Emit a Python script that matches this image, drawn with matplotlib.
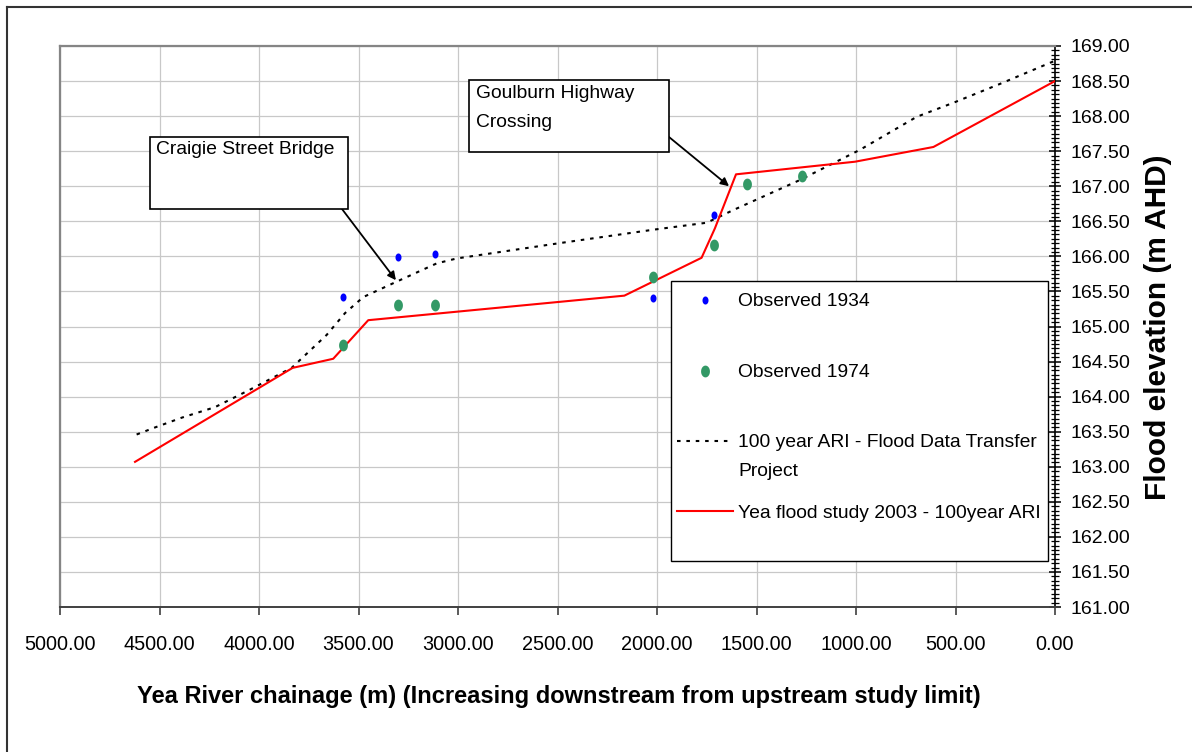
import numpy as np
import matplotlib
matplotlib.use("Agg")
import matplotlib.pyplot as plt
from matplotlib.path import Path
from matplotlib.patches import Rectangle
from matplotlib.lines import Line2D
from matplotlib.ticker import MultipleLocator, FormatStrFormatter

# ---------------- data ----------------
chainage_fdtp = [4615, 4523, 4388, 4221, 4045, 3836, 3660, 3568, 3476, 3308, 3107,
                 3007, 2487, 2019, 1750, 1617, 1281, 980, 695, 511, 276, 0]
elev_fdtp = [163.46, 163.56, 163.70, 163.85, 164.10, 164.41, 164.88, 165.19, 165.42,
             165.64, 165.90, 165.97, 166.19, 166.38, 166.48, 166.66, 167.09, 167.52,
             167.99, 168.19, 168.46, 168.79]

chainage_2003 = [4623, 3831, 3627, 3451, 2164, 1776, 1709, 1603, 1005, 611, 0]
elev_2003 = [163.07, 164.41, 164.54, 165.09, 165.44, 165.98, 166.40, 167.17, 167.35,
             167.56, 168.50]

chainage_1934 = [3579, 3302, 3114, 2022, 1712]
elev_1934 = [165.42, 165.99, 166.03, 165.40, 166.59]

chainage_1974 = [3579, 3303, 3114, 2020, 1712, 1548, 1270]
elev_1974 = [164.73, 165.30, 165.30, 165.70, 166.16, 167.03, 167.15]

label_1934 = "Observed 1934"
label_1974 = "Observed 1974"
label_fdtp = ["100 year ARI - Flood Data Transfer", "Project"]
label_2003 = "Yea flood study 2003 - 100year ARI"

x_ticks = list(range(5000, -1, -500))
annot_bridge = ("Craigie Street Bridge", 3312, 165.66)
annot_highway = ("Goulburn Highway\nCrossing", 1638, 167.00)

# ---------------- style ----------------
FONT = ['Liberation Sans', 'DejaVu Sans']
W, H = 1192, 752

fig = plt.figure(figsize=(W / 100, H / 100), dpi=100)
fig.patch.set_facecolor('white')
ax = fig.add_axes([60 / W, 145 / H, 995 / W, 561 / H])

theta = np.linspace(0, 2 * np.pi, 41)
ell = Path(np.column_stack([0.75 * np.cos(theta), np.sin(theta)]), closed=True)

hf, = ax.plot(chainage_fdtp, elev_fdtp, color='black', lw=1.5, dashes=(1.7, 2.8),
              zorder=3)
h03, = ax.plot(chainage_2003, elev_2003, color='#ff0000', lw=1.5, zorder=3)
h34, = ax.plot(chainage_1934, elev_1934, ls='none', marker=ell, ms=5.8,
               color='#0000ff', mec='none', zorder=4)
h74, = ax.plot(chainage_1974, elev_1974, ls='none', marker=ell, ms=8.5,
               color='#339966', mec='none', zorder=4)

ax.set_xlim(5000, 0)
ax.set_ylim(161, 169)
ax.set_xticks(x_ticks)
ax.xaxis.set_major_formatter(FormatStrFormatter('%.2f'))
ax.yaxis.set_major_locator(MultipleLocator(0.5))
ax.yaxis.set_minor_locator(MultipleLocator(0.0625))
ax.yaxis.set_major_formatter(FormatStrFormatter('%.2f'))
ax.yaxis.tick_right()
ax.grid(True, which='major', color='#c8c8c8', lw=0.9)
ax.set_axisbelow(True)

for s in ['top', 'left']:
    ax.spines[s].set_color('#858585')
    ax.spines[s].set_linewidth(1.6)
ax.spines['bottom'].set_color('#404040')
ax.spines['bottom'].set_linewidth(1.4)
ax.spines['right'].set_color('black')
ax.spines['right'].set_linewidth(1.2)

ax.tick_params(axis='x', direction='out', length=6, width=1.2, color='#404040',
               pad=14, labelsize=14.3)
ax.tick_params(axis='y', which='major', direction='inout', length=9, width=1.1,
               color='black', pad=7, labelsize=14)
ax.tick_params(axis='y', which='minor', direction='inout', length=6, width=0.9,
               color='black')
for lab in ax.get_xticklabels() + ax.get_yticklabels():
    lab.set_fontfamily(FONT)

# axis titles
fig.text(559 / W, 1 - 697 / H,
         "Yea River chainage (m) (Increasing downstream from upstream study limit)",
         ha='center', va='center', fontsize=17, fontweight='bold', family=FONT)
fig.text(1158 / W, 1 - 327 / H, "Flood elevation (m AHD)", rotation=90,
         ha='center', va='center', fontsize=21.5, fontweight='bold', family=FONT)

# legend frame + one legend row each (rows are unevenly spaced in the original)
fig.add_artist(Rectangle((670.7 / W, 1 - 561 / H), 377 / W, 280.3 / H,
                         transform=fig.transFigure, facecolor='white',
                         edgecolor='black', lw=1.0, zorder=1))
LEG_FS = 13.9
leg_kw = dict(frameon=False, handlelength=2.9, handletextpad=0.27, borderpad=0,
              borderaxespad=0, loc='center left', bbox_transform=fig.transFigure,
              prop={'family': FONT, 'size': LEG_FS})
blank = Line2D([], [], color='none')
rows = [(h34, label_1934, 301.7), (h74, label_1974, 372.7),
        (hf, label_fdtp[0], 442.7), (blank, label_fdtp[1], 471.7),
        (h03, label_2003, 513.3)]
for handle, text, yc in rows:
    fig.legend([handle], [text], bbox_to_anchor=(677 / W, 1 - yc / H), **leg_kw)

# annotation boxes
fig.add_artist(Rectangle((150 / W, 1 - 209 / H), 198 / W, 72 / H,
                         transform=fig.transFigure, facecolor='white',
                         edgecolor='black', lw=1.2, zorder=1))
fig.text(156 / W, 1 - 141 / H, annot_bridge[0], ha='left', va='top',
         fontsize=13.9, family=FONT, zorder=3)
ax.annotate('', xy=(annot_bridge[1], annot_bridge[2]), xycoords='data',
            xytext=(342, H - 209), textcoords='figure pixels',
            arrowprops=dict(arrowstyle='-|>', color='black', lw=1.3,
                            mutation_scale=12, shrinkA=0, shrinkB=0), zorder=5)

fig.add_artist(Rectangle((469.3 / W, 1 - 152 / H), 200 / W, 72 / H,
                         transform=fig.transFigure, facecolor='white',
                         edgecolor='black', lw=1.2, zorder=1))
fig.text(476 / W, 1 - 85 / H, annot_highway[0], ha='left', va='top',
         fontsize=13.9, family=FONT, linespacing=1.9, zorder=3)
ax.annotate('', xy=(annot_highway[1], annot_highway[2]), xycoords='data',
            xytext=(669, H - 137), textcoords='figure pixels',
            arrowprops=dict(arrowstyle='-|>', color='black', lw=1.3,
                            mutation_scale=12, shrinkA=0, shrinkB=0), zorder=5)

# chart-area border (top & left visible)
fig.add_artist(Line2D([7 / W, 7 / W], [0, 1 - 7 / H], transform=fig.transFigure,
                      color='#333333', lw=1.5))
fig.add_artist(Line2D([7 / W, 1], [1 - 7 / H, 1 - 7 / H], transform=fig.transFigure,
                      color='#333333', lw=1.5))

fig.savefig('out.png', dpi=100)
